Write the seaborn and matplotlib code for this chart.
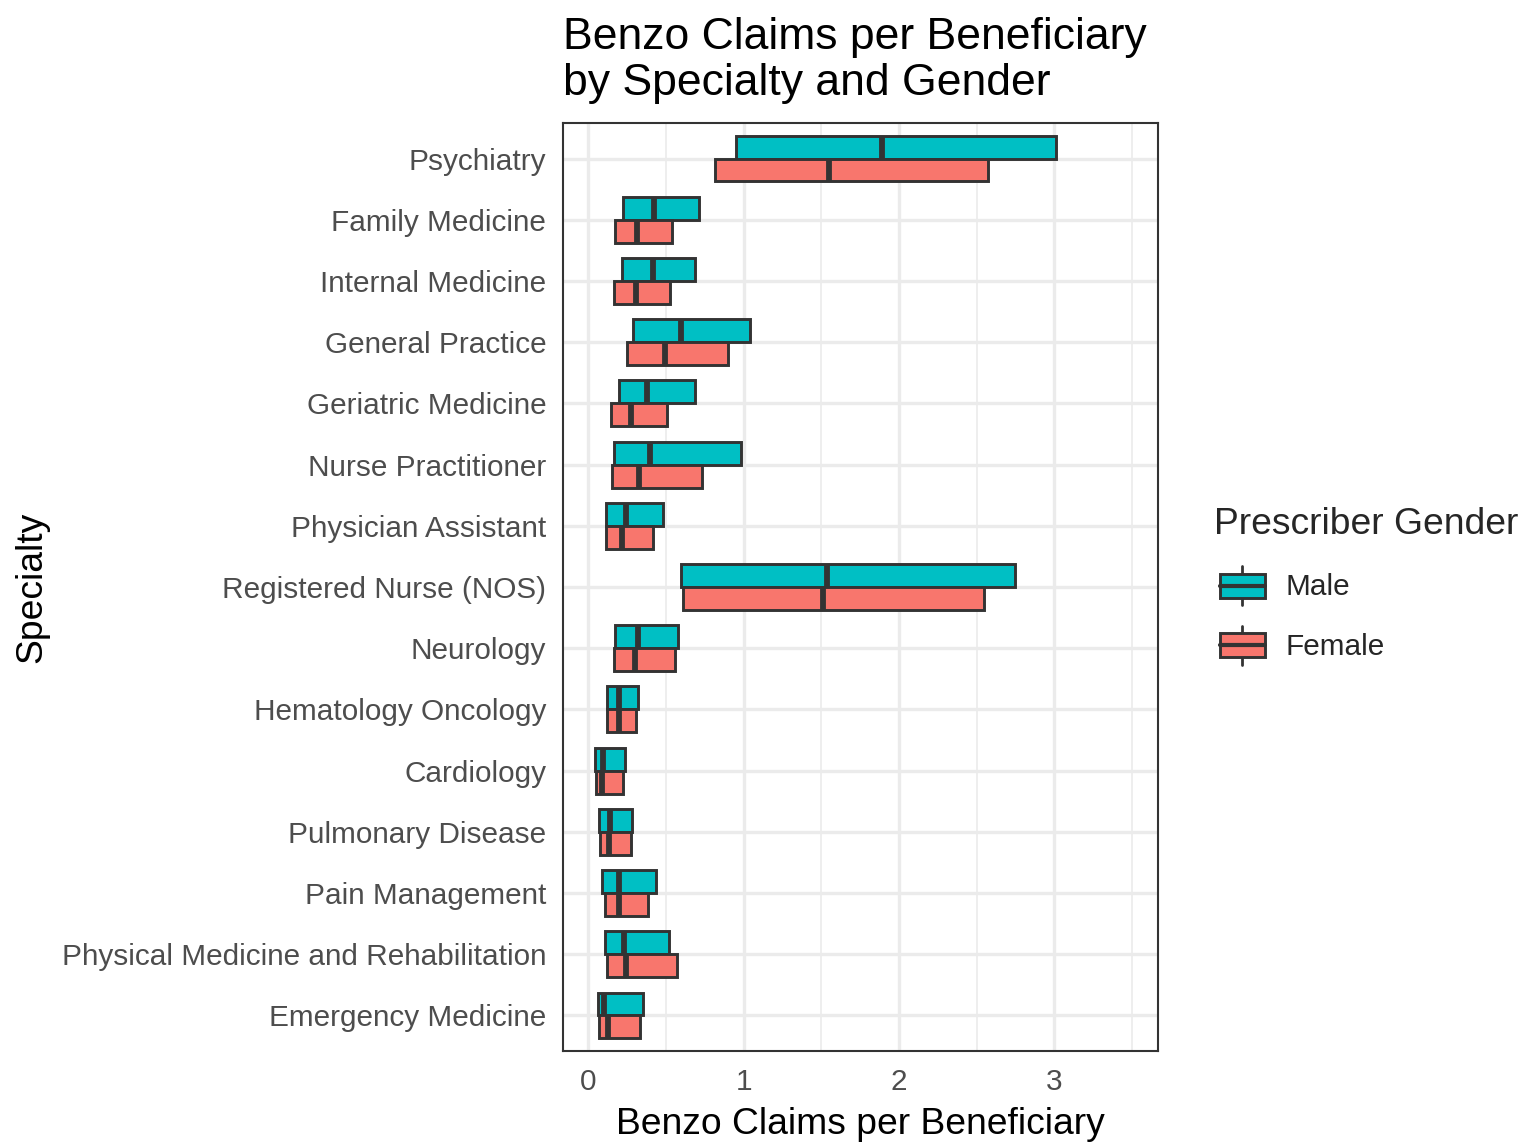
import matplotlib
matplotlib.use("Agg")
import matplotlib.pyplot as plt
import seaborn as sns
import pandas as pd
from matplotlib.patches import Rectangle, Patch
from matplotlib.lines import Line2D
from matplotlib.legend_handler import HandlerBase
from matplotlib.ticker import MultipleLocator

specialties = [
    "Psychiatry", "Family Medicine", "Internal Medicine", "General Practice",
    "Geriatric Medicine", "Nurse Practitioner", "Physician Assistant",
    "Registered Nurse (NOS)", "Neurology", "Hematology Oncology", "Cardiology",
    "Pulmonary Disease", "Pain Management",
    "Physical Medicine and Rehabilitation", "Emergency Medicine",
]
genders = ["Male", "Female"]

male_q1 = [0.953, 0.222, 0.216, 0.285, 0.194, 0.166, 0.112, 0.596, 0.174, 0.122, 0.043, 0.070, 0.085, 0.108, 0.060]
male_median = [1.888, 0.421, 0.413, 0.593, 0.379, 0.398, 0.240, 1.537, 0.322, 0.194, 0.095, 0.137, 0.198, 0.231, 0.102]
male_q3 = [3.009, 0.709, 0.689, 1.042, 0.687, 0.980, 0.482, 2.751, 0.576, 0.322, 0.238, 0.280, 0.433, 0.517, 0.351]

female_q1 = [0.815, 0.169, 0.166, 0.248, 0.142, 0.154, 0.112, 0.606, 0.166, 0.122, 0.051, 0.073, 0.108, 0.122, 0.067]
female_median = [1.548, 0.314, 0.309, 0.494, 0.275, 0.324, 0.216, 1.513, 0.300, 0.194, 0.090, 0.132, 0.198, 0.240, 0.124]
female_q3 = [2.571, 0.539, 0.524, 0.896, 0.505, 0.729, 0.413, 2.548, 0.559, 0.305, 0.221, 0.275, 0.386, 0.573, 0.332]

colors = {"Male": "#00BFC4", "Female": "#F8766D"}

# Build a small table whose quartiles equal the read-off box statistics
rows = []
stats = {"Male": (male_q1, male_median, male_q3), "Female": (female_q1, female_median, female_q3)}
for g in genders:
    q1s, meds, q3s = stats[g]
    for s, a, m, b in zip(specialties, q1s, meds, q3s):
        for v in (a, a, m, b, b):
            rows.append({"Specialty": s, "Gender": g, "value": v})
df = pd.DataFrame(rows)

sns.set_theme(style="white")
plt.rcParams["font.family"] = ["Liberation Sans", "DejaVu Sans"]

fig = plt.figure(figsize=(15.2, 11.44), dpi=100)
ax = fig.add_axes([563 / 1520, 1 - 1051 / 1144, (1158 - 563) / 1520, (1051 - 123) / 1144])

edge = "#333333"
sns.boxplot(
    data=df, x="value", y="Specialty", hue="Gender", order=specialties,
    hue_order=genders, palette=colors, saturation=1, width=0.75, gap=0,
    whis=0, showcaps=False, showfliers=False, linecolor=edge, linewidth=2.1,
    medianprops=dict(linewidth=4.2, color=edge), legend=False, ax=ax,
)

ax.set_xlim(-0.164, 3.669)
ax.set_ylim(14.58, -0.58)
ax.set_xticks([0, 1, 2, 3])
ax.xaxis.set_minor_locator(MultipleLocator(0.5))
ax.set_axisbelow(True)
ax.grid(which="major", axis="both", color="#EBEBEB", linewidth=2.4)
ax.grid(which="minor", axis="x", color="#EBEBEB", linewidth=1.2)
ax.tick_params(axis="x", which="minor", length=0)
for sp in ax.spines.values():
    sp.set_visible(True)
    sp.set_color(edge)
    sp.set_linewidth(1.5)
ax.tick_params(axis="both", which="major", length=6, width=1.5, color=edge,
               labelcolor="#4D4D4D", labelsize=21.4, pad=6)

ax.set_xlabel("Benzo Claims per Beneficiary", fontsize=26.8, color="black", labelpad=8)
ax.set_ylabel("Specialty", fontsize=26.8, color="black", labelpad=9)
ax.set_title("Benzo Claims per Beneficiary\nby Specialty and Gender", loc="left",
             fontsize=32, color="black", pad=20, linespacing=1.17)


class BoxLegendHandler(HandlerBase):
    def create_artists(self, legend, orig_handle, xdescent, ydescent, width,
                       height, fontsize, trans):
        x0, y0 = -xdescent, -ydescent
        xoff = 4.0
        x0 = x0 + xoff
        width = width - xoff
        fc = orig_handle.get_facecolor()
        bh = height * 0.62
        by = y0 + (height - bh) / 2
        w1 = Line2D([x0 + width / 2] * 2, [y0, by], color=edge, lw=2, transform=trans)
        w2 = Line2D([x0 + width / 2] * 2, [by + bh, y0 + height], color=edge, lw=2, transform=trans)
        rect = Rectangle((x0, by), width, bh, facecolor=fc, edgecolor=edge,
                         linewidth=2.1, transform=trans)
        med = Line2D([x0, x0 + width], [y0 + height / 2] * 2, color=edge, lw=3, transform=trans)
        return [w1, w2, rect, med]


handles = [Patch(facecolor=colors[g]) for g in genders]
leg = fig.legend(handles, genders, handler_map={Patch: BoxLegendHandler()},
                 title="Prescriber Gender", loc="upper left",
                 bbox_to_anchor=(1214 / 1520, 1 - 507 / 1144), frameon=False,
                 fontsize=21.4, title_fontsize=26.8, handlelength=1.72,
                 handleheight=1.62, labelspacing=0.71, handletextpad=0.7,
                 borderpad=0, borderaxespad=0, alignment="left")
leg._legend_box.sep = 17.5

fig.savefig("out.png", dpi=100)
